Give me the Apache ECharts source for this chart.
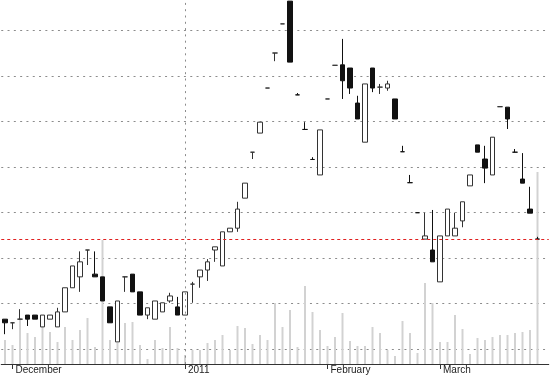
<!DOCTYPE html>
<html>
<head>
<meta charset="utf-8">
<style>
html,body{margin:0;padding:0;background:#fff;}
#chart{width:550px;height:376px;}
</style>
<script src="https://cdn.jsdelivr.net/npm/echarts@6/dist/echarts.min.js"></script>
</head>
<body>
<div id="chart"></div>
<script>
var dates = [
  '2010-11-30',
  '2010-12-01','2010-12-02','2010-12-03','2010-12-06','2010-12-07','2010-12-08','2010-12-09','2010-12-10',
  '2010-12-13','2010-12-14','2010-12-15','2010-12-16','2010-12-17','2010-12-20','2010-12-21','2010-12-22',
  '2010-12-23','2010-12-24','2010-12-27','2010-12-28','2010-12-29','2010-12-30','2010-12-31',
  '2011-01-04','2011-01-05','2011-01-06','2011-01-07','2011-01-10','2011-01-11','2011-01-12','2011-01-13',
  '2011-01-14','2011-01-17','2011-01-18','2011-01-19','2011-01-20','2011-01-21','2011-01-24','2011-01-25',
  '2011-01-26','2011-01-27','2011-01-28',
  '2011-02-01','2011-02-09','2011-02-10','2011-02-11','2011-02-14','2011-02-15','2011-02-16','2011-02-17',
  '2011-02-18','2011-02-21','2011-02-22','2011-02-23','2011-02-24','2011-02-25','2011-02-28',
  '2011-03-01','2011-03-02','2011-03-03','2011-03-04','2011-03-07','2011-03-08','2011-03-09','2011-03-10',
  '2011-03-11','2011-03-14','2011-03-15','2011-03-16','2011-03-17','2011-03-18','2011-03-21'
];
var opens  = [10.66,10.58,10.66,10.75,10.75,10.49,10.66,10.49,10.82,11.35,11.59,12.18,11.65,11.59,10.93,10.16,11.59,11.65,11.26,10.75,10.66,10.82,11.06,10.93,10.75,11.43,11.59,11.74,12.18,11.83,12.58,12.66,13.32,14.33,14.75,15.74,16.51,17.15,17.65,15.59,14.83,14.17,13.83,15.50,16.24,16.25,16.18,15.41,14.55,16.18,15.76,15.74,15.50,14.34,13.66,13.00,12.42,12.18,11.48,12.49,12.49,12.82,13.59,14.49,14.18,13.83,15.33,15.32,14.33,13.74,13.08,12.42];
var closes = [10.58,10.58,10.66,10.66,10.66,10.75,10.75,10.82,11.35,11.83,11.92,12.18,11.59,11.06,10.58,11.06,11.59,11.26,10.75,10.91,11.06,11.02,11.17,10.75,11.26,11.43,11.74,11.92,12.25,12.58,12.66,13.08,13.65,14.33,14.99,15.74,16.51,17.15,16.31,15.59,14.83,14.17,14.82,15.50,16.24,15.90,15.74,15.06,15.83,15.74,15.76,15.83,15.06,14.34,13.66,13.00,12.49,11.92,12.49,13.08,12.66,13.24,13.83,14.33,13.98,14.66,15.33,15.06,14.33,13.65,12.99,12.42];
var lows   = [10.33,10.44,10.66,10.51,10.66,10.49,10.66,10.49,10.82,11.35,11.26,11.85,11.59,11.06,10.58,10.16,11.26,11.26,10.75,10.66,10.66,10.82,11.02,10.75,10.75,11.02,11.35,11.50,11.92,11.83,12.58,12.58,13.32,14.18,14.75,15.74,16.33,17.15,16.31,15.59,14.83,14.17,13.83,15.50,16.24,15.50,15.61,15.06,14.55,15.65,15.61,15.68,15.06,14.34,13.66,13.00,12.42,11.92,11.48,12.49,12.49,12.68,13.59,14.33,13.65,13.83,15.33,14.84,14.33,13.65,12.99,12.42];
var highs  = [10.66,10.58,10.88,10.75,10.75,10.75,10.75,10.91,11.35,11.83,12.15,12.18,12.15,11.59,10.93,11.06,11.59,11.65,11.26,10.91,11.06,11.02,11.24,11.15,11.26,11.48,11.74,11.98,12.25,12.58,12.66,13.24,13.65,14.33,14.99,15.74,16.51,17.15,17.65,15.63,14.99,14.22,14.82,15.50,16.24,16.82,16.18,15.57,15.83,16.18,15.83,15.90,15.50,14.47,13.83,13.00,13.00,13.06,12.49,13.08,13.00,13.24,13.83,14.49,14.47,14.66,15.33,15.32,14.40,14.31,13.57,12.47];
var volumes = [24,19,46,31,27,37,32,22,37,24,34,46,17,124,24,21,41,42,19,5,24,16,37,16,9,14,14,21,24,29,14,38,36,20,29,24,61,37,54,17,78,52,34,18,27,51,23,18,18,37,31,14,8,43,31,11,81,61,22,22,49,35,10,26,24,27,29,29,31,32,34,192];
var labelIndex = [1, 24, 43, 58];
var labelText  = ['December', '2011', 'February', 'March'];
var yearStartIndex = 24;

var candles = opens.map(function (o, i) { return [o, closes[i], lows[i], highs[i]]; });
var lastClose = closes[closes.length - 1];

var chart = echarts.init(document.getElementById('chart'), null, {renderer: 'canvas'});
var gridDot = {color: '#8c8c8c', width: 1, type: [2, 4.3]};
var isLabel = function (i) { return labelIndex.indexOf(i) >= 0; };
chart.setOption({
  animation: false,
  backgroundColor: '#ffffff',
  grid: [
    {left: 1.25, right: 1.25, top: 0, bottom: 26.8},
    {left: 1.25, right: 1.25, top: 0, bottom: 12}
  ],
  xAxis: [
    {type: 'category', gridIndex: 0, data: dates, boundaryGap: true, show: false},
    {
      type: 'category', gridIndex: 1, data: dates, boundaryGap: true,
      axisLine: {show: true, lineStyle: {color: '#333', width: 1}},
      axisTick: {
        show: true, alignWithLabel: true, length: 5,
        lineStyle: {color: '#333'},
        interval: isLabel
      },
      axisLabel: {
        show: true, align: 'left', margin: 1, padding: [0, 0, 0, 3],
        fontFamily: 'Liberation Sans', fontSize: 10, color: '#222',
        interval: isLabel,
        formatter: function (v, i) { var k = labelIndex.indexOf(i); return k >= 0 ? labelText[k] : ''; }
      },
      splitLine: {show: false}
    }
  ],
  yAxis: [
    {
      type: 'value', gridIndex: 0, min: 10, max: 17.675, interval: 1,
      axisLine: {show: false}, axisTick: {show: false}, axisLabel: {show: false},
      splitLine: {show: true, showMaxLine: false, lineStyle: gridDot}
    },
    {type: 'value', gridIndex: 1, min: 0, max: 364, show: false}
  ],
  series: [
    {
      type: 'bar', xAxisIndex: 1, yAxisIndex: 1, data: volumes, barWidth: 2, z: 1,
      itemStyle: {color: '#d2d2d2'}, silent: true,
      markLine: {
        silent: true, symbol: 'none', label: {show: false},
        lineStyle: gridDot,
        data: [{xAxis: dates[yearStartIndex]}]
      }
    },
    {
      type: 'candlestick', xAxisIndex: 0, yAxisIndex: 0, data: candles, barWidth: 5, z: 3,
      itemStyle: {color: '#ffffff', color0: '#111111', borderColor: '#333333', borderColor0: '#111111', borderWidth: 1},
      markLine: {
        silent: true, symbol: 'none', label: {show: false},
        itemStyle: {color: '#e02020'},
        lineStyle: {color: '#e02020', width: 1, type: [3, 3]},
        emphasis: {disabled: true},
        data: [{yAxis: lastClose, lineStyle: {color: '#e02020'}}]
      }
    }
  ]
});
</script>
</body>
</html>
